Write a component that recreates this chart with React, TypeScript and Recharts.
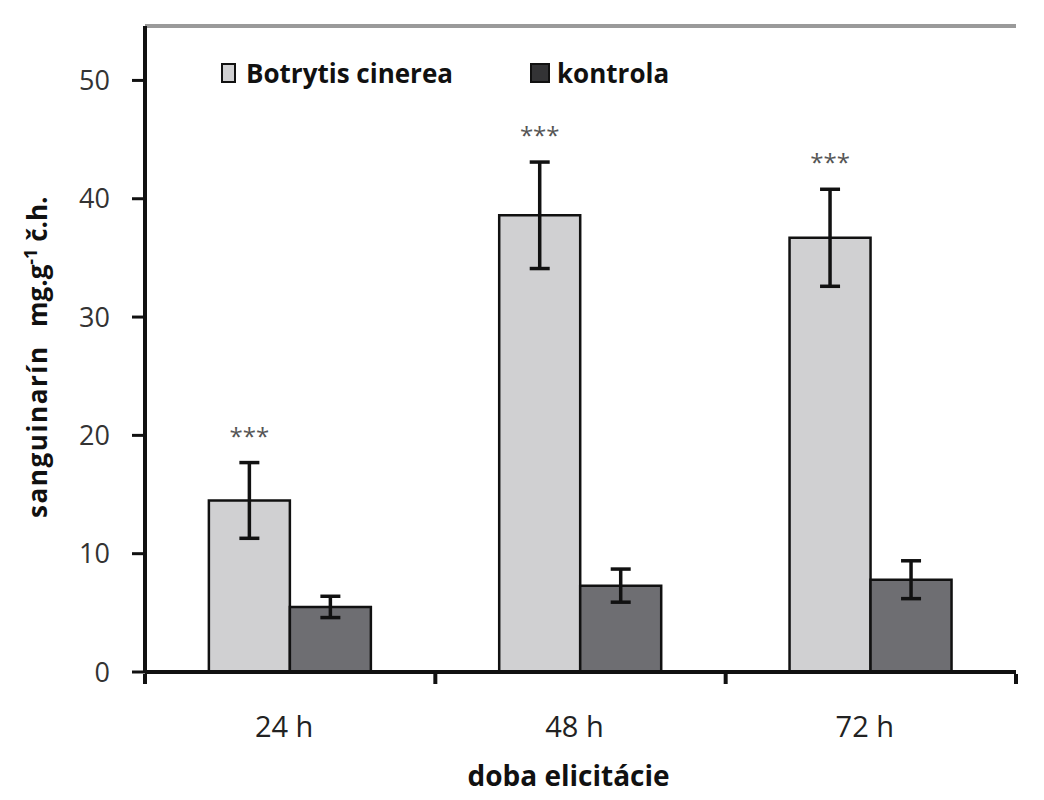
import React from 'react';
import {
  BarChart,
  Bar,
  XAxis,
  YAxis,
  ErrorBar,
  LabelList,
  ReferenceLine,
} from 'recharts';

const categories = ['24 h', '48 h', '72 h'];
const botrytis = [14.5, 38.6, 36.7];
const botrytisErr = [3.2, 4.5, 4.1];
const kontrola = [5.5, 7.3, 7.8];
const kontrolaErr = [0.9, 1.4, 1.6];
const significance = ['***', '***', '***'];
const yTicks = [0, 10, 20, 30, 40, 50];

const data = categories.map((c, i) => ({
  name: c,
  botrytis: botrytis[i],
  botrytisErr: botrytisErr[i],
  kontrola: kontrola[i],
  kontrolaErr: kontrolaErr[i],
  sig: significance[i],
}));

const FONT = '"Open Sans", "DejaVu Sans", sans-serif';
const W = 1044;
const H = 800;
const Y_AXIS_W = 145;
const RIGHT = 28;
const Y_MAX = 54.6;
const BAND = (W - Y_AXIS_W - RIGHT) / categories.length;

const XTick = (props: any) => {
  const { x, y, payload, index } = props;
  const half = BAND / 2;
  return (
    <g>
      <line x1={x - half} y1={y} x2={x - half} y2={y + 10} stroke="#111" strokeWidth={4} />
      {index === categories.length - 1 && (
        <line x1={x + half} y1={y} x2={x + half} y2={y + 10} stroke="#111" strokeWidth={4} />
      )}
      <text x={x - 6} y={y + 63} textAnchor="middle" fontSize={29} fill="#222" fontFamily={FONT}>
        {payload.value}
      </text>
    </g>
  );
};

// asterisks sit a little above the top of the error bar
const SigLabel = (props: any) => {
  const { x, y, width, height, value, index } = props;
  const perUnit = height / botrytis[index];
  const errTop = y - botrytisErr[index] * perUnit;
  return (
    <text x={x + width / 2} y={errTop - 18} textAnchor="middle" fontSize={24} fill="#555" fontFamily={FONT}>
      {value}
    </text>
  );
};

const YLabel = () => (
  <g fontFamily={FONT} fontWeight={700} fontSize={26} fill="#111">
    <text x={47} y={518} transform="rotate(-90 47 518)" textLength={171} lengthAdjust="spacing">
      sanguinarín
    </text>
    <text x={47} y={327} transform="rotate(-90 47 327)">
      mg.g
      <tspan dy={-10} fontSize={18}>-1</tspan>
      <tspan dy={10}> č.h.</tspan>
    </text>
  </g>
);

const legendSwatch = (bg: string, w: number) => ({
  display: 'inline-block',
  width: w,
  height: 16,
  background: bg,
  border: '2px solid #111',
});

export default function App() {
  return (
    <div style={{ position: 'absolute', left: 0, top: 0, width: W, height: H, background: '#fff' }}>
      <BarChart
        width={W}
        height={H}
        data={data}
        margin={{ top: 26, right: RIGHT, left: 0, bottom: 0 }}
        barCategoryGap="22%"
        barGap={0}
      >
        <XAxis
          dataKey="name"
          height={128}
          axisLine={{ stroke: '#111', strokeWidth: 4 }}
          tickLine={false}
          tickSize={0}
          tick={<XTick />}
          interval={0}
          label={{
            value: 'doba elicitácie',
            position: 'insideBottom',
            offset: 14,
            dx: -12,
            fontSize: 28,
            fontWeight: 700,
            fill: '#111',
            fontFamily: FONT,
          }}
        />
        <YAxis
          width={Y_AXIS_W}
          domain={[0, Y_MAX]}
          ticks={yTicks}
          allowDataOverflow
          axisLine={{ stroke: '#111', strokeWidth: 4 }}
          tickLine={{ stroke: '#111', strokeWidth: 3 }}
          tickSize={13}
          tickMargin={22}
          tick={{ fontSize: 27, fill: '#333', fontFamily: FONT }}
          label={{ content: () => <YLabel /> }}
        />
        <YAxis yAxisId="frame" orientation="right" width={0} tick={false} tickLine={false} axisLine={{ stroke: '#9a9a9a', strokeWidth: 3 }} />
        <ReferenceLine y={Y_MAX} stroke="#9a9a9a" strokeWidth={4} />
        <Bar dataKey="botrytis" fill="#d0d0d2" stroke="#111" strokeWidth={2.5} isAnimationActive={false}>
          <ErrorBar dataKey="botrytisErr" width={10} stroke="#111" strokeWidth={3.5} />
          <LabelList dataKey="sig" content={<SigLabel />} />
        </Bar>
        <Bar dataKey="kontrola" fill="#6e6e72" stroke="#111" strokeWidth={2.5} isAnimationActive={false}>
          <ErrorBar dataKey="kontrolaErr" width={10} stroke="#111" strokeWidth={3.5} />
        </Bar>
      </BarChart>
      <div
        style={{
          position: 'absolute',
          left: 221,
          top: 55,
          display: 'flex',
          alignItems: 'center',
          fontFamily: FONT,
          fontWeight: 700,
          fontSize: 26,
          color: '#111',
          whiteSpace: 'nowrap',
        }}
      >
        <span style={{ ...legendSwatch('#d0d0d2', 11), marginRight: 10 }} />
        <span style={{ marginRight: 77 }}>Botrytis cinerea</span>
        <span style={{ ...legendSwatch('#333335', 16), marginRight: 7 }} />
        <span>kontrola</span>
      </div>
    </div>
  );
}
